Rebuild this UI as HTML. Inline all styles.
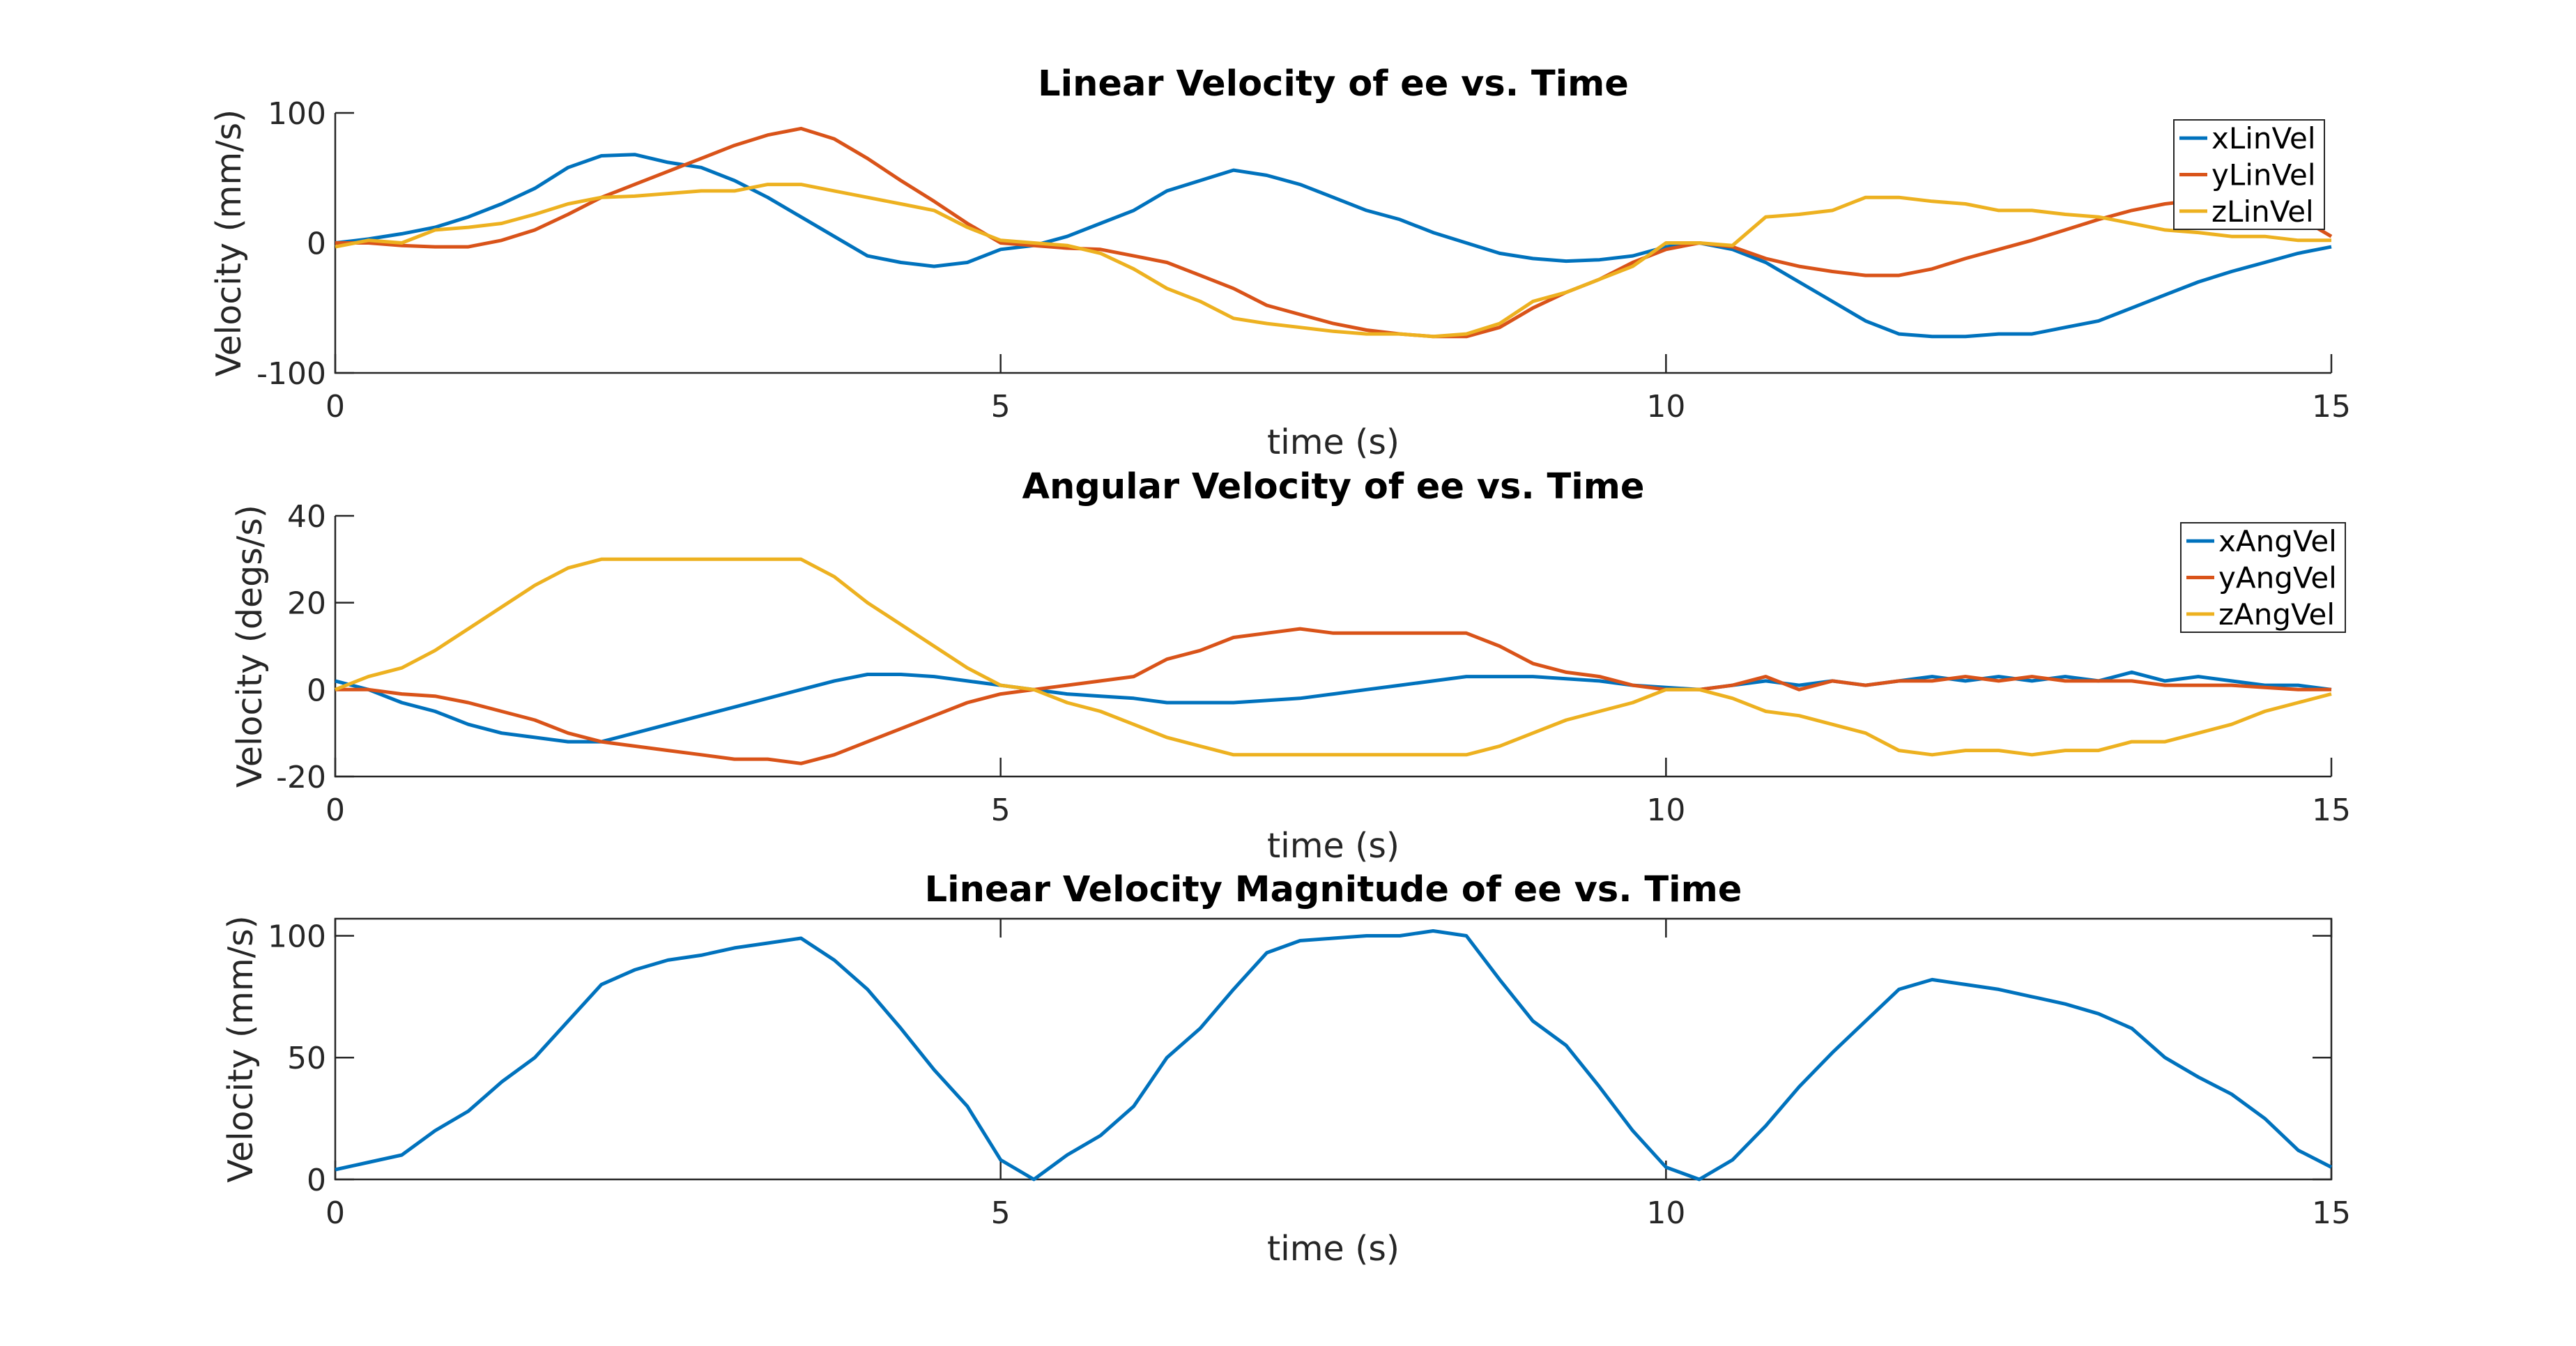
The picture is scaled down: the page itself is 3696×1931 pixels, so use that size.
<!DOCTYPE html>
<html><head><meta charset="utf-8">
<style>
html,body{margin:0;padding:0;background:#fff;}
svg{display:block;font-family:"DejaVu Sans","Liberation Sans",sans-serif;}
</style></head>
<body>
<svg id="fig" width="3696" height="1931" viewBox="0 0 3696 1931" xmlns="http://www.w3.org/2000/svg"></svg>
<script>
const times = [0,0.25,0.5,0.75,1,1.25,1.5,1.75,2,2.25,2.5,2.75,3,3.25,3.5,3.75,4,4.25,4.5,4.75,5,5.25,5.5,5.75,6,6.25,6.5,6.75,7,7.25,7.5,7.75,8,8.25,8.5,8.75,9,9.25,9.5,9.75,10,10.25,10.5,10.75,11,11.25,11.5,11.75,12,12.25,12.5,12.75,13,13.25,13.5,13.75,14,14.25,14.5,14.75,15];
const xLinVel = [0,3,7,12,20,30,42,58,67,68,62,58,48,35,20,5,-10,-15,-18,-15,-5,-2,5,15,25,40,48,56,52,45,35,25,18,8,0,-8,-12,-14,-13,-10,-3,0,-5,-15,-30,-45,-60,-70,-72,-72,-70,-70,-65,-60,-50,-40,-30,-22,-15,-8,-3];
const yLinVel = [0,0,-2,-3,-3,2,10,22,35,45,55,65,75,83,88,80,65,48,32,15,0,-2,-4,-5,-10,-15,-25,-35,-48,-55,-62,-67,-70,-72,-72,-65,-50,-38,-28,-15,-5,0,-3,-12,-18,-22,-25,-25,-20,-12,-5,2,10,18,25,30,33,35,30,20,5];
const zLinVel = [-3,2,0,10,12,15,22,30,35,36,38,40,40,45,45,40,35,30,25,12,2,0,-2,-8,-20,-35,-45,-58,-62,-65,-68,-70,-70,-72,-70,-62,-45,-38,-28,-18,0,0,-2,20,22,25,35,35,32,30,25,25,22,20,15,10,8,5,5,2,2];
const xAngVel = [2,0,-3,-5,-8,-10,-11,-12,-12,-10,-8,-6,-4,-2,0,2,3.5,3.5,3,2,1,0,-1,-1.5,-2,-3,-3,-3,-2.5,-2,-1,0,1,2,3,3,3,2.5,2,1,0.5,0,1,2,1,2,1,2,3,2,3,2,3,2,4,2,3,2,1,1,0];
const yAngVel = [0,0,-1,-1.5,-3,-5,-7,-10,-12,-13,-14,-15,-16,-16,-17,-15,-12,-9,-6,-3,-1,0,1,2,3,7,9,12,13,14,13,13,13,13,13,10,6,4,3,1,0,0,1,3,0,2,1,2,2,3,2,3,2,2,2,1,1,1,0.5,0,0];
const zAngVel = [0,3,5,9,14,19,24,28,30,30,30,30,30,30,30,26,20,15,10,5,1,0,-3,-5,-8,-11,-13,-15,-15,-15,-15,-15,-15,-15,-15,-13,-10,-7,-5,-3,0,0,-2,-5,-6,-8,-10,-14,-15,-14,-14,-15,-14,-14,-12,-12,-10,-8,-5,-3,-1];
const linMag = [4,7,10,20,28,40,50,65,80,86,90,92,95,97,99,90,78,62,45,30,8,0,10,18,30,50,62,78,93,98,99,100,100,102,100,82,65,55,38,20,5,0,8,22,38,52,65,78,82,80,78,75,72,68,62,50,42,35,25,12,5];
const xTicks = [0,5,10,15];
const yTicks1 = [-100,0,100];
const yTicks2 = [-20,0,20,40];
const yTicks3 = [0,50,100];

const NS="http://www.w3.org/2000/svg";
const svg=document.getElementById('fig');
function el(tag,attrs,parent){const e=document.createElementNS(NS,tag);for(const k in attrs)e.setAttribute(k,attrs[k]);(parent||svg).appendChild(e);return e;}
const colors=['#0072BD','#D95319','#EDB120'];
const L=481,R=3345;

function panel(cfg){
  const g=el('g',{});
  
  
  const sx=t=>L+(t-0)/(15-0)*(R-L);
  const sy=v=>cfg.bot-(v-cfg.ymin)/(cfg.ymax-cfg.ymin)*(cfg.bot-cfg.top);
  const ax=el('path',{d:`M${L},${cfg.top} L${L},${cfg.bot} L${R},${cfg.bot}`+(cfg.box?` L${R},${cfg.top} Z`:''),fill:'none',stroke:'#262626','stroke-width':2.5},g);
  
  
  xTicks.forEach(t=>{
    const x=sx(t);
    el('line',{x1:x,y1:cfg.bot,x2:x,y2:cfg.bot-27,stroke:'#262626','stroke-width':2.5},g);
    if(cfg.box) el('line',{x1:x,y1:cfg.top,x2:x,y2:cfg.top+27,stroke:'#262626','stroke-width':2.5},g);
    const tx=el('text',{x:x,y:cfg.bot+63,'font-size':44,fill:'#262626','text-anchor':'middle'},g);
    tx.textContent=t;
    
    
  });
  cfg.yt.forEach(v=>{
    const y=sy(v);
    el('line',{x1:L,y1:y,x2:L+27,y2:y,stroke:'#262626','stroke-width':2.5},g);
    if(cfg.box) el('line',{x1:R,y1:y,x2:R-27,y2:y,stroke:'#262626','stroke-width':2.5},g);
    const tx=el('text',{x:L-13,y:y+16,'font-size':44,fill:'#262626','text-anchor':'end'},g);
    tx.textContent=v;
    
    
  });
  const title=el('text',{x:(L+R)/2,y:cfg.top-25,'font-size':51,'font-weight':'bold',fill:'#000','text-anchor':'middle'},g);
  title.textContent=cfg.title;
  
  
  const xl=el('text',{x:(L+R)/2,y:cfg.bot+116,'font-size':49,fill:'#262626','text-anchor':'middle'},g);
  xl.textContent='time (s)';
  
  
  const cy=(cfg.top+cfg.bot)/2;
  const yl=el('text',{x:cfg.ylx,y:cy,'font-size':49,fill:'#262626','text-anchor':'middle',transform:`rotate(-90 ${cfg.ylx} ${cy})`},g);
  yl.textContent=cfg.ylabel;
  
  
  cfg.series.forEach((s,i)=>{
    const d=times.map((t,j)=>(j?'L':'M')+sx(t).toFixed(1)+','+sy(s.v[j]).toFixed(1)).join(' ');
    const p=el('path',{d:d,fill:'none',stroke:colors[i],'stroke-width':5,'stroke-linejoin':'round'},g);
    
    
  });
  if(cfg.leg){
    const lg=el('g',{},g);
    
    
    const [x0,y0,w,h]=cfg.leg;
    el('rect',{x:x0,y:y0,width:w,height:h,fill:'#fff',stroke:'#262626','stroke-width':2},lg);
    cfg.series.forEach((s,i)=>{
      const yy=y0+h*(i+0.5)/3;
      el('line',{x1:x0+8,y1:yy,x2:x0+48,y2:yy,stroke:colors[i],'stroke-width':5},lg);
      const t=el('text',{x:x0+54,y:yy+15,'font-size':42,fill:'#000'},lg);
      t.textContent=s.n;
      
      
    });
  }
}
panel({name:'linear-velocity-panel',top:162,bot:535,ymin:-100,ymax:100,yt:yTicks1,box:false,
  title:'Linear Velocity of ee vs. Time',ylabel:'Velocity (mm/s)',ylx:345,
  series:[{n:'xLinVel',v:xLinVel},{n:'yLinVel',v:yLinVel},{n:'zLinVel',v:zLinVel}],leg:[3119,172,216,157]});
panel({name:'angular-velocity-panel',top:740,bot:1114,ymin:-20,ymax:40,yt:yTicks2,box:false,
  title:'Angular Velocity of ee vs. Time',ylabel:'Velocity (degs/s)',ylx:375,
  series:[{n:'xAngVel',v:xAngVel},{n:'yAngVel',v:yAngVel},{n:'zAngVel',v:zAngVel}],leg:[3129,750,236,157]});
panel({name:'magnitude-panel',top:1318,bot:1692,ymin:0,ymax:107,yt:yTicks3,box:true,
  title:'Linear Velocity Magnitude of ee vs. Time',ylabel:'Velocity (mm/s)',ylx:362,
  series:[{n:'linMag',v:linMag}],leg:null});
</script>
</body></html>
